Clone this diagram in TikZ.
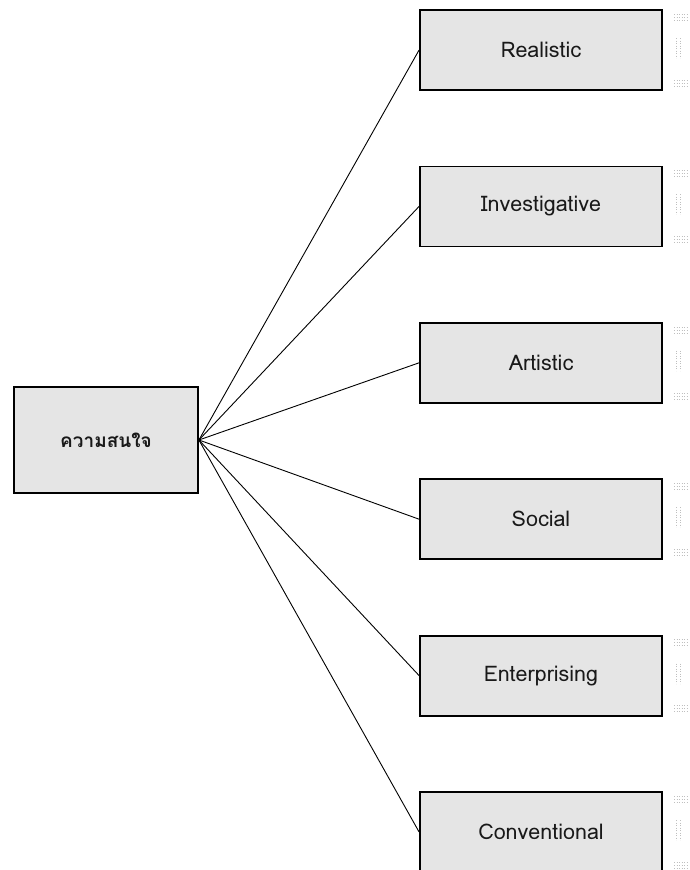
\documentclass[tikz,border=0pt]{standalone}
\usepackage{fontspec}
\newfontfamily\thaifont[Script=Thai]{Loma}
\begin{document}
\begin{tikzpicture}[x=1pt,y=-1pt,
  box/.style={draw=black, line width=1.8pt, fill=gray!20, inner sep=0pt, text=black!90},
  conn/.style={draw=black, line width=0.9pt},
  faint/.style={draw=gray!50, line width=0.5pt, dotted}]
\useasboundingbox (0,0) rectangle (690,870);
\node[box, minimum width=184pt, minimum height=106pt, font=\thaifont\bfseries\fontsize{19}{23}\selectfont] (root) at (106,440) {ความสนใจ};
\foreach \n/\t [count=\i from 0] in {r/Realistic,i/Investigative,a/Artistic,s/Social,e/Enterprising,c/Conventional}{
  \pgfmathsetmacro{\yy}{50+156.4*\i}
  \node[box, minimum width=242pt, minimum height=80pt, font=\thaifont\fontsize{21.5}{25}\selectfont] (\n) at (541,\yy) {\t};
  \draw[conn] (root.east) -- (\n.west);
  \foreach \d in {2,5,8}{
    \draw[faint] (674,\yy-38+\d) -- (688,\yy-38+\d);
    \draw[faint] (674,\yy+38-\d) -- (688,\yy+38-\d);
  }
  \draw[faint] (676,\yy-12) -- (676,\yy+8);
  \draw[faint] (680,\yy-12) -- (680,\yy+8);
}
\end{tikzpicture}
\end{document}
